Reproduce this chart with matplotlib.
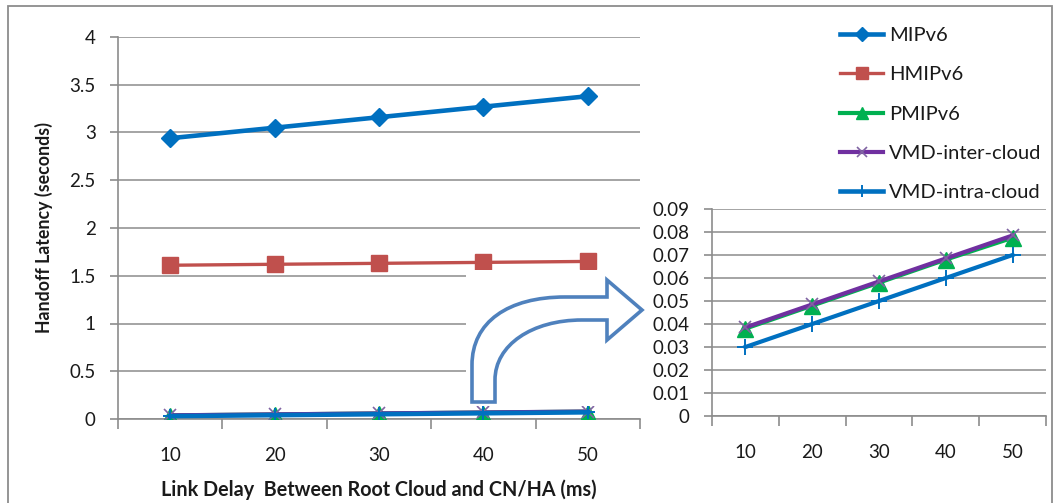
import matplotlib
matplotlib.use("Agg")
import matplotlib.pyplot as plt
from matplotlib.path import Path
from matplotlib.patches import PathPatch, Rectangle
from matplotlib.ticker import FixedLocator, FixedFormatter

plt.rcParams['font.family'] = ['Lato', 'DejaVu Sans']

# ---- data ----
delays = ["10", "20", "30", "40", "50"]
mipv6 = [2.94, 3.05, 3.16, 3.27, 3.38]
hmipv6 = [1.61, 1.62, 1.63, 1.64, 1.65]
pmipv6 = [0.038, 0.048, 0.058, 0.068, 0.0775]
vmd_inter = [0.0385, 0.0485, 0.0585, 0.0685, 0.0785]
vmd_intra = [0.030, 0.040, 0.050, 0.060, 0.070]
main_yticks = [0, 0.5, 1, 1.5, 2, 2.5, 3, 3.5, 4]
main_ylabels = ["0", "0.5", "1", "1.5", "2", "2.5", "3", "3.5", "4"]
inset_yticks = [0, 0.01, 0.02, 0.03, 0.04, 0.05, 0.06, 0.07, 0.08, 0.09]
inset_ylabels = ["0", "0.01", "0.02", "0.03", "0.04", "0.05", "0.06", "0.07", "0.08", "0.09"]
series_names = ["MIPv6", "HMIPv6", "PMIPv6", "VMD-inter-cloud", "VMD-intra-cloud"]

W, H = 1053, 503
fig = plt.figure(figsize=(W / 100, H / 100), dpi=100)

def fx(x):
    return x / W

def fy(y):
    return 1 - y / H

GRID = '#8c8c8c'
BLUE = '#0070C0'
RED = '#C0504D'
GREEN = '#00B050'
PURPLE = '#7030A0'
PURPLE_M = '#8064A2'
TXT = '#1a1a1a'
FS = 13.5

xs = list(range(1, len(delays) + 1))

def style_axes(ax, yticks, ylabels, ymax):
    ax.set_xlim(0.5, len(delays) + 0.5)
    ax.set_ylim(0, ymax)
    ax.xaxis.set_major_locator(FixedLocator([i + 0.5 for i in range(0, len(delays) + 1)]))
    ax.xaxis.set_major_formatter(FixedFormatter([""] * (len(delays) + 1)))
    ax.xaxis.set_minor_locator(FixedLocator(xs))
    ax.xaxis.set_minor_formatter(FixedFormatter(delays))
    ax.tick_params(axis='x', which='major', length=7, width=1.2, color=GRID, direction='out')
    ax.tick_params(axis='x', which='minor', length=0, pad=20, labelsize=FS, labelcolor=TXT)
    ax.set_yticks(yticks)
    ax.set_yticklabels(ylabels)
    ax.tick_params(axis='y', length=6, width=1.2, color=GRID, pad=10, labelsize=FS, labelcolor=TXT)
    ax.grid(axis='y', color=GRID, linewidth=1.1)
    ax.set_axisbelow(True)
    for s in ['top', 'right']:
        ax.spines[s].set_visible(False)
    for s in ['left', 'bottom']:
        ax.spines[s].set_color(GRID)
        ax.spines[s].set_linewidth(1.2)

# ---- main axes ----
ax = fig.add_axes([fx(118), fy(419), fx(640) - fx(118), fy(37) - fy(419)])
style_axes(ax, main_yticks, main_ylabels, 4)
ax.plot(xs, mipv6, color=BLUE, lw=3.3, marker='D', ms=9.5, label=series_names[0], zorder=3)
ax.plot(xs, hmipv6, color=RED, lw=2.4, marker='s', ms=11.5, label=series_names[1], zorder=3)
ax.plot(xs, pmipv6, color=GREEN, lw=3, marker='^', ms=10, label=series_names[2], zorder=3)
ax.plot(xs, vmd_inter, color=PURPLE, lw=3, marker='x', ms=9, mec=PURPLE_M, mew=1.2,
        label=series_names[3], zorder=3)
ax.plot(xs, vmd_intra, color=BLUE, lw=3.3, marker='+', ms=10, mew=1.4,
        label=series_names[4], zorder=3)
ax.set_ylabel("Handoff Latency (seconds)", fontsize=12.8, fontweight='bold', color=TXT, labelpad=12)
fig.text(fx(379), fy(490), "Link Delay  Between Root Cloud and CN/HA (ms)", fontsize=14.2,
         fontweight='bold', color=TXT, ha='center', va='center')

# ---- white cover + curved arrow ----
fig.add_artist(Rectangle((fx(466), fy(406)), fx(646) - fx(466), fy(270) - fy(406),
                         transform=fig.transFigure, facecolor='white', edgecolor='none', zorder=1))
verts_px = [(472, 402), (472, 365), (472, 322), (508, 297), (565, 297), (607, 297), (607, 280),
            (642, 310), (607, 340), (607, 320), (582, 320), (532, 320), (495, 345), (495, 380),
            (495, 402), (472, 402)]
codes = [Path.MOVETO, Path.LINETO, Path.CURVE4, Path.CURVE4, Path.CURVE4, Path.LINETO,
         Path.LINETO, Path.LINETO, Path.LINETO, Path.LINETO, Path.LINETO, Path.CURVE4,
         Path.CURVE4, Path.CURVE4, Path.LINETO, Path.CLOSEPOLY]
verts = [(fx(x), fy(y)) for x, y in verts_px]
fig.add_artist(PathPatch(Path(verts, codes), transform=fig.transFigure, facecolor='white',
                         edgecolor='#4F81BD', lw=2.6, joinstyle='miter', zorder=2))

# ---- inset axes ----
ax2 = fig.add_axes([fx(712), fy(416), fx(1046) - fx(712), fy(209) - fy(416)], zorder=3)
ax2.patch.set_alpha(0)
style_axes(ax2, inset_yticks, inset_ylabels, 0.09)
ax2.plot(xs, pmipv6, color=GREEN, lw=3, marker='^', ms=11, zorder=3)
ax2.plot(xs, vmd_inter, color=PURPLE, lw=3, marker='x', ms=9, mec=PURPLE_M, mew=1.2, zorder=3)
ax2.plot(xs, vmd_intra, color=BLUE, lw=3, marker='+', ms=12, mew=1.4, zorder=3)

# ---- legend ----
leg = fig.legend(*ax.get_legend_handles_labels(), loc='upper left',
                 bbox_to_anchor=(fx(832), fy(19)), frameon=False, fontsize=14.5,
                 handlelength=2.15, handletextpad=0.3, labelspacing=1.1, borderaxespad=0,
                 markerscale=0.8)
for t in leg.get_texts():
    t.set_color(TXT)

# ---- outer border ----
fig.add_artist(Rectangle((fx(8), fy(530)), fx(1052) - fx(8), fy(6) - fy(530),
                         transform=fig.transFigure, facecolor='none', edgecolor='#8c8c8c',
                         lw=1.3, zorder=0))

fig.savefig("out.png", dpi=100)
